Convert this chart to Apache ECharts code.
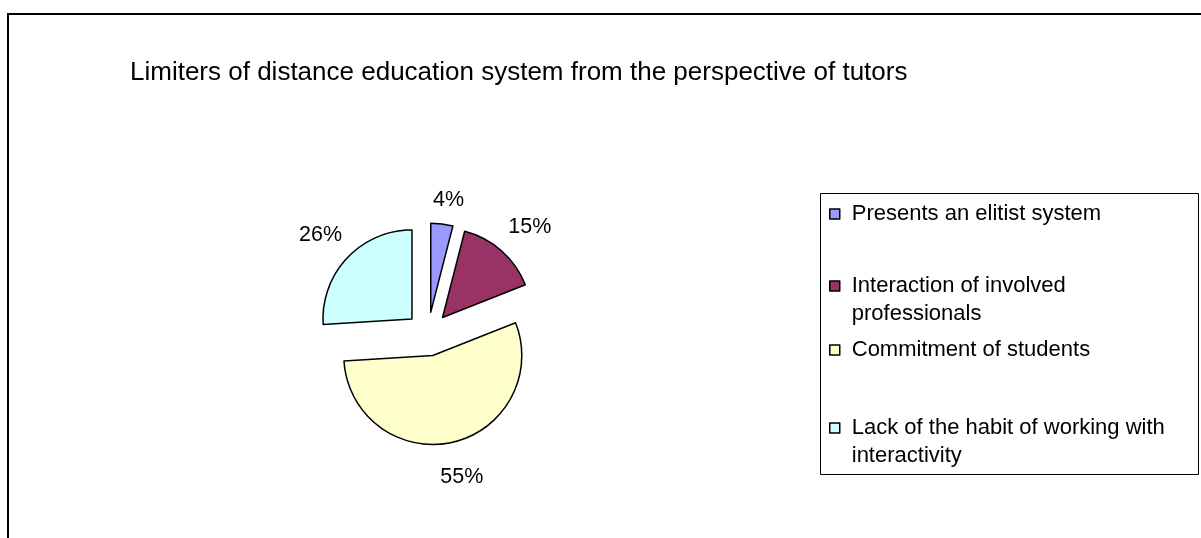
<!DOCTYPE html>
<html><head><meta charset="utf-8">
<script src="https://cdn.jsdelivr.net/npm/echarts@6/dist/echarts.min.js"></script>
<style>html,body{margin:0;padding:0;background:#fff}#c{width:1201px;height:538px}</style>
</head><body><div id="c"></div>
<script>
const chartTitle = 'Limiters of distance education system from the perspective of tutors';
const categories = [
  'Presents an elitist system',
  'Interaction of involved professionals',
  'Commitment of students',
  'Lack of the habit of working with interactivity'
];
const values = [4, 15, 55, 26];
const colors = ['#9999FF', '#993366', '#FFFFCC', '#CCFFFF'];

const FONT = '"Liberation Sans", Arial, sans-serif';
const CX = 428, CY = 334, R = 89, OFFSET = 22, LABEL_R = 146;

// mid angle of every slice (clockwise from 12 o'clock), from the data
const total = values.reduce((a, b) => a + b, 0);
let acc = 0;
const mids = values.map(v => { const m = (acc + v / 2) / total * 2 * Math.PI; acc += v; return m; });
// labels sit on a squashed path: closer to the pie above/below than at the sides
const labelShift = a => {
  const d = 12.6 - 21.6 * Math.cos(a) * Math.cos(a);
  return [d * Math.sin(a), -d * Math.cos(a)];
};

// legend entries: icon centre y, and whether the text wraps to two lines
const legendIconY = [214, 286, 350, 428];
const legendWrap = [false, true, false, true];
const LH = 27.5;

const legends = categories.map((name, i) => ({
  data: [name],
  orient: 'vertical',
  left: 829,
  top: legendIconY[i] - (legendWrap[i] ? 1.5 * LH : 0.5 * LH),
  padding: 0,
  itemWidth: 10,
  itemHeight: 10,
  icon: 'rect',
  selectedMode: false,
  itemStyle: { borderColor: '#000', borderWidth: 1.5 },
  formatter: n => (legendWrap[i] ? '\n' : '') + n,
  textStyle: {
    fontFamily: FONT, fontSize: 22, color: '#000', lineHeight: LH,
    width: 330, overflow: 'break', padding: [0, 0, 0, 7]
  }
}));

const chart = echarts.init(document.getElementById('c'), null, { renderer: 'canvas' });
chart.setOption({
  animation: false,
  backgroundColor: '#fff',
  title: {
    text: chartTitle, left: 130, top: 60, padding: 0,
    textStyle: { fontFamily: FONT, fontSize: 26, fontWeight: 'normal', color: '#000' }
  },
  graphic: [
    { type: 'rect', shape: { x: 8, y: 14, width: 1300, height: 700 },
      style: { fill: 'none', stroke: '#000', lineWidth: 2 }, silent: true, z: -10 },
    { type: 'rect', shape: { x: 820.5, y: 193.5, width: 378, height: 281 },
      style: { fill: 'none', stroke: '#000', lineWidth: 1 }, silent: true, z: -10 }
  ],
  legend: legends,
  series: [{
    type: 'pie',
    center: [CX, CY],
    radius: R,
    startAngle: 90,
    clockwise: true,
    avoidLabelOverlap: false,
    selectedMode: 'multiple',
    selectedOffset: OFFSET,
    emphasis: { disabled: true, scale: false },
    select: { itemStyle: { borderColor: '#000', borderWidth: 1.5 } },
    itemStyle: { borderColor: '#000', borderWidth: 1.5 },
    label: { show: false },
    labelLine: { show: false },
    data: categories.map((name, i) => ({
      name, value: values[i], selected: true, itemStyle: { color: colors[i] }
    }))
  }, {
    // invisible ring that only carries the percentage labels
    type: 'pie',
    center: [CX + 3, CY + 5],
    radius: [LABEL_R - 5, LABEL_R + 5],
    startAngle: 90,
    clockwise: true,
    silent: true,
    avoidLabelOverlap: false,
    emphasis: { disabled: true, scale: false },
    itemStyle: { color: 'rgba(0,0,0,0)', borderWidth: 0 },
    label: {
      show: true, position: 'inside', formatter: '{c}%', rotate: 0,
      fontFamily: FONT, fontSize: 21.5, color: '#000'
    },
    labelLine: { show: false },
    data: categories.map((name, i) => ({
      name, value: values[i], label: { offset: labelShift(mids[i]) }
    }))
  }]
});
</script></body></html>
